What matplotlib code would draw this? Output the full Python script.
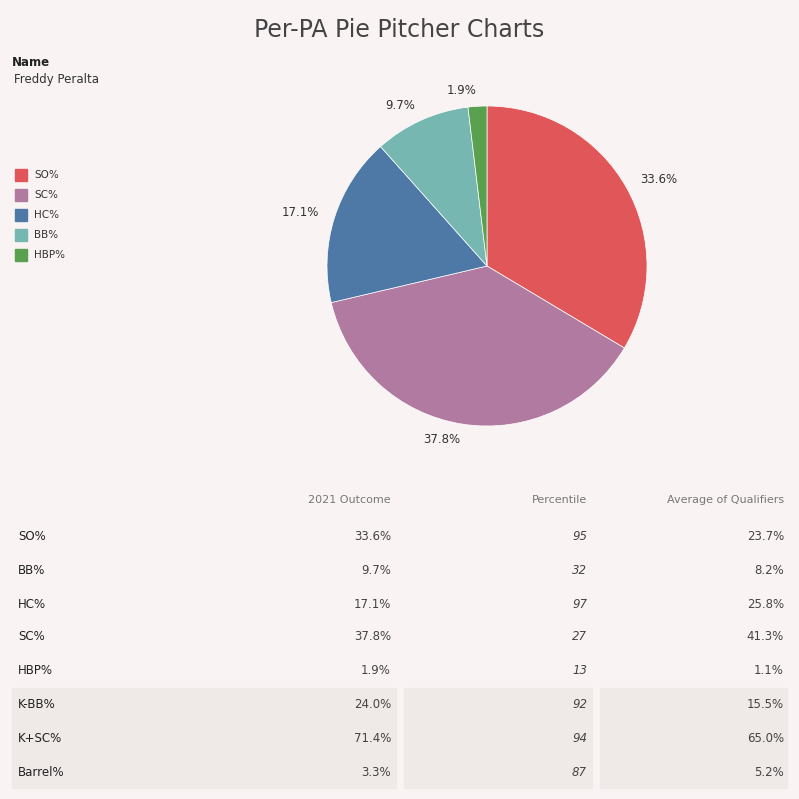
import matplotlib
matplotlib.use("Agg")
from matplotlib import pyplot as plt
from matplotlib import patches

W = 799
BG = "#f9f3f3"
SHADE = "#efe9e7"

categories = ["SO%", "SC%", "HC%", "BB%", "HBP%"]
pie_values = [33.6, 37.8, 17.1, 9.7, 1.9]
colors = ["#e15759", "#b07aa1", "#4e79a7", "#76b7b2", "#59a14f"]

row_labels = ["SO%", "BB%", "HC%", "SC%", "HBP%", "K-BB%", "K+SC%", "Barrel%"]
outcome = ["33.6%", "9.7%", "17.1%", "37.8%", "1.9%", "24.0%", "71.4%", "3.3%"]
percentile = ["95", "32", "97", "27", "13", "92", "94", "87"]
qualifiers = ["23.7%", "8.2%", "25.8%", "41.3%", "1.1%", "15.5%", "65.0%", "5.2%"]
headers = ["2021 Outcome", "Percentile", "Average of Qualifiers"]


def fx(px):
    return px / W


def fy(py):
    return 1 - py / W


def main():
    fig = plt.figure(figsize=(7.99, 7.99), dpi=100, facecolor=BG)
    plt.rcParams['font.family'] = ['DejaVu Sans']

    fig.text(fx(399), fy(30), "Per-PA Pie Pitcher Charts", ha='center', va='center',
             fontsize=17, color="#444444")
    fig.text(fx(12), fy(62), "Name", ha='left', va='center', fontsize=8.5,
             fontweight='bold', color="#222222")
    fig.text(fx(14), fy(80), "Freddy Peralta", ha='left', va='center', fontsize=8.5,
             color="#333333")

    # legend
    for i, (cat, col) in enumerate(zip(categories, colors)):
        y = 175 + 20 * i
        fig.patches.append(patches.Rectangle((fx(15), fy(y + 6)), fx(12), 12 / W,
                                             color=col, transform=fig.transFigure))
        fig.text(fx(34), fy(y), cat, ha='left', va='center', fontsize=7.5, color="#333333")

    # pie
    r = 160
    ax = fig.add_axes([fx(487 - r), fy(266 + r), 2 * r / W, 2 * r / W])
    ax.set_facecolor(BG)
    labels = ["%.1f%%" % v for v in pie_values]
    _, texts = ax.pie(pie_values, colors=colors, startangle=90, counterclock=False,
                      labels=labels, labeldistance=1.1,
                      wedgeprops=dict(edgecolor='white', linewidth=0.5),
                      textprops=dict(fontsize=8.5, color="#333333"))
    ax.set_xlim(-1, 1)
    ax.set_ylim(-1, 1)
    ax.set_aspect('equal')
    for t in texts:
        t.set_clip_on(False)

    # table
    for x0, x1 in [(12, 396), (404, 592), (600, 787)]:
        fig.patches.append(patches.Rectangle((fx(x0), fy(788)), fx(x1 - x0), 100 / W,
                                             color=SHADE, transform=fig.transFigure))
    col_x = [391, 587, 784]
    for x, h in zip(col_x, headers):
        fig.text(fx(x), fy(500), h, ha='right', va='center', fontsize=8, color="#777777")
    row_y = [537, 570, 604, 637, 670, 705, 738, 772]
    for i, y in enumerate(row_y):
        fig.text(fx(18), fy(y), row_labels[i], ha='left', va='center', fontsize=8.5,
                 color="#222222")
        fig.text(fx(col_x[0]), fy(y), outcome[i], ha='right', va='center', fontsize=8.5,
                 color="#444444")
        fig.text(fx(col_x[1]), fy(y), percentile[i], ha='right', va='center', fontsize=8.5,
                 color="#444444", style='italic')
        fig.text(fx(col_x[2]), fy(y), qualifiers[i], ha='right', va='center', fontsize=8.5,
                 color="#444444")

    fig.savefig("out.png", dpi=100, facecolor=BG)


main()
